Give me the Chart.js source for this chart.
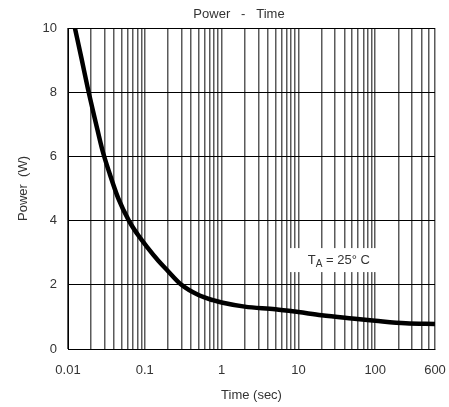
<!DOCTYPE html>
<html>
<head>
<meta charset="utf-8">
<script src="https://cdn.jsdelivr.net/npm/chart.js@4.4.1/dist/chart.umd.min.js"></script>
<style>
  html, body { margin: 0; padding: 0; background: #fff; }
  #wrap { width: 449px; height: 407px; }
</style>
</head>
<body>
<div id="wrap"><canvas id="powerChart" width="449" height="407"></canvas></div>
<script>
// curve: time (sec) vs power (W)
const timeSec = [0.0123, 0.015, 0.018, 0.023, 0.028, 0.035, 0.045, 0.062, 0.08, 0.106,
    0.15, 0.193, 0.3, 0.5, 0.77, 1, 2, 5, 10, 20, 50, 100, 250, 600];
const powerW = [10, 9.05, 8.15, 7.05, 6.2, 5.45, 4.7, 4.0, 3.58, 3.19,
    2.75, 2.47, 2.0, 1.68, 1.52, 1.45, 1.32, 1.24, 1.15, 1.05, 0.95, 0.88, 0.80, 0.78];

const xGridTicks = [0.01, 0.02, 0.03, 0.04, 0.05, 0.06, 0.07, 0.08, 0.09,
    0.1, 0.2, 0.3, 0.4, 0.5, 0.6, 0.7, 0.8, 0.9,
    1, 2, 3, 4, 5, 6, 7, 8, 9,
    10, 20, 30, 40, 50, 60, 70, 80, 90,
    100, 200, 300, 400, 500, 600];
const xLabelTicks = ['0.01', '0.1', '1', '10', '100', '600'];
const yTicks = [0, 2, 4, 6, 8, 10];

const chartTitle = 'Power   -   Time';
const noteMain = 'T';
const noteSub = 'A';
const noteRest = ' = 25\u00B0 C';

const FONT = 'Arial, "Liberation Sans", sans-serif';

const overlay = {
    id: 'overlay',
    afterDatasetsDraw(chart) {
        const ctx = chart.ctx;
        const xs = chart.scales.x, ys = chart.scales.y;
        // ambient temperature note with white backing
        const cx = xs.getPixelForValue(28), cy = ys.getPixelForValue(2.77);
        ctx.save();
        ctx.fillStyle = '#fff';
        ctx.fillRect(cx - 43, cy - 12, 87, 24);
        ctx.fillStyle = '#333';
        ctx.textBaseline = 'middle';
        ctx.font = '13px ' + FONT;
        let x = cx - 25;
        ctx.fillText(noteMain, x, cy);
        x += ctx.measureText(noteMain).width;
        ctx.font = '10px ' + FONT;
        ctx.fillText(noteSub, x, cy + 4);
        x += ctx.measureText(noteSub).width;
        ctx.font = '13px ' + FONT;
        ctx.fillText(noteRest, x, cy);
        ctx.restore();
    },
    afterDraw(chart) {
        const ctx = chart.ctx;
        ctx.save();
        ctx.fillStyle = '#333';
        ctx.font = '13px ' + FONT;
        ctx.textAlign = 'center';
        ctx.textBaseline = 'middle';
        ctx.fillText(chartTitle, 239, 14);
        ctx.restore();
    }
};

new Chart(document.getElementById('powerChart').getContext('2d'), {
    type: 'line',
    data: {
        datasets: [{
            data: timeSec.map((t, i) => ({ x: t, y: powerW[i] })),
            borderColor: '#000',
            borderWidth: 4.5,
            pointRadius: 0,
            cubicInterpolationMode: 'monotone',
            fill: false
        }]
    },
    options: {
        responsive: false,
        animation: false,
        layout: { padding: { top: 28, right: 14, left: 0, bottom: 0 } },
        plugins: { legend: { display: false }, tooltip: { enabled: false } },
        scales: {
            x: {
                type: 'logarithmic',
                min: 0.01,
                max: 600,
                afterBuildTicks: scale => {
                    scale.ticks = xGridTicks.map(v => ({ value: v }));
                },
                afterFit: scale => {
                    scale.height = 58;
                    scale.paddingLeft = 0;
                    scale.paddingRight = 0;
                },
                ticks: {
                    autoSkip: false,
                    maxRotation: 0,
                    padding: 14,
                    color: '#333',
                    font: { size: 13, family: FONT },
                    callback: v => {
                        const s = String(Number(v.toPrecision(3)));
                        return xLabelTicks.includes(s) ? s : '';
                    }
                },
                grid: { color: '#5a5a5a', lineWidth: 1.5, drawTicks: false },
                border: { color: '#000', width: 1 },
                title: {
                    display: true,
                    text: 'Time (sec)',
                    color: '#333',
                    font: { size: 13, family: FONT },
                    padding: { top: 0, bottom: 4 }
                }
            },
            y: {
                min: 0,
                max: 10,
                afterBuildTicks: scale => {
                    scale.ticks = yTicks.map(v => ({ value: v }));
                },
                afterFit: scale => {
                    scale.width = 68;
                    scale.paddingTop = 0;
                    scale.paddingBottom = 0;
                },
                ticks: {
                    padding: 11,
                    color: '#333',
                    font: { size: 13, family: FONT }
                },
                grid: { color: '#000', lineWidth: 1, drawTicks: false },
                border: { color: '#000', width: 1 },
                title: {
                    display: true,
                    text: 'Power  (W)',
                    color: '#333',
                    font: { size: 13, family: FONT },
                    padding: { top: 16, bottom: 0 }
                }
            }
        }
    },
    plugins: [overlay]
});
</script>
</body>
</html>
